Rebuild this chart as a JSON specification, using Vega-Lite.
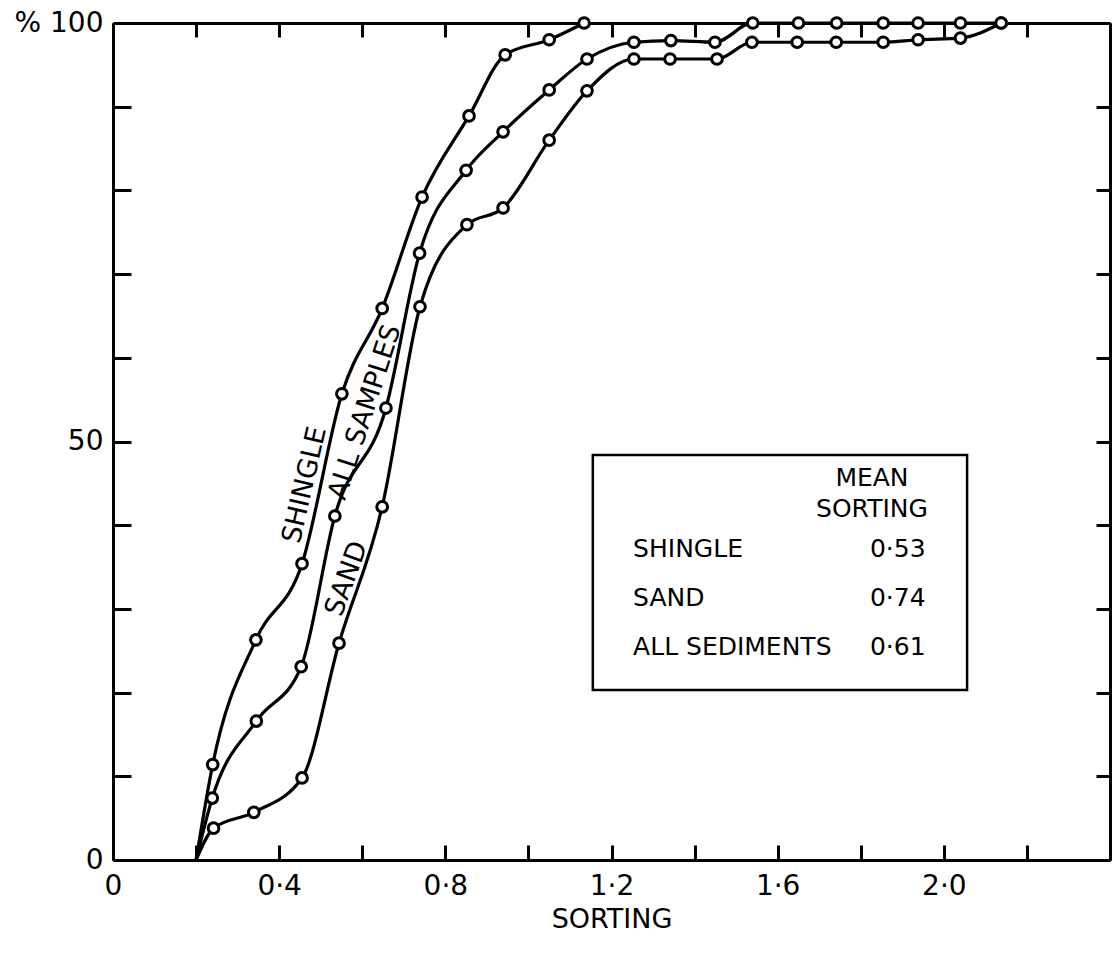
{
  "$schema": "https://vega.github.io/schema/vega-lite/v6.json",
  "width": 997,
  "height": 837,
  "autosize": {"type": "none"},
  "padding": {"left": 113, "top": 23, "right": 6, "bottom": 101},
  "background": "white",
  "config": {
    "view": {"stroke": null},
    "font": "DejaVu Sans",
    "text": {"font": "DejaVu Sans", "color": "black"}
  },
  "datasets": {
    "curves": [
      {"series": "Shingle", "x": 0.2, "y": 0},
      {"series": "Shingle", "x": 0.24, "y": 11.4},
      {"series": "Shingle", "x": 0.344, "y": 26.3},
      {"series": "Shingle", "x": 0.455, "y": 35.4},
      {"series": "Shingle", "x": 0.551, "y": 55.7},
      {"series": "Shingle", "x": 0.648, "y": 65.9},
      {"series": "Shingle", "x": 0.744, "y": 79.2},
      {"series": "Shingle", "x": 0.857, "y": 88.9},
      {"series": "Shingle", "x": 0.944, "y": 96.2},
      {"series": "Shingle", "x": 1.05, "y": 98.0},
      {"series": "Shingle", "x": 1.134, "y": 100},
      {"series": "All samples", "x": 0.2, "y": 0},
      {"series": "All samples", "x": 0.239, "y": 7.4},
      {"series": "All samples", "x": 0.345, "y": 16.6},
      {"series": "All samples", "x": 0.453, "y": 23.1},
      {"series": "All samples", "x": 0.534, "y": 41.1},
      {"series": "All samples", "x": 0.657, "y": 54.0},
      {"series": "All samples", "x": 0.738, "y": 72.5},
      {"series": "All samples", "x": 0.85, "y": 82.4},
      {"series": "All samples", "x": 0.939, "y": 87.0},
      {"series": "All samples", "x": 1.05, "y": 92.0},
      {"series": "All samples", "x": 1.141, "y": 95.7},
      {"series": "All samples", "x": 1.254, "y": 97.7},
      {"series": "All samples", "x": 1.343, "y": 97.9},
      {"series": "All samples", "x": 1.449, "y": 97.7},
      {"series": "All samples", "x": 1.54, "y": 100},
      {"series": "All samples", "x": 1.65, "y": 100},
      {"series": "All samples", "x": 1.742, "y": 100},
      {"series": "All samples", "x": 1.854, "y": 100},
      {"series": "All samples", "x": 1.938, "y": 100},
      {"series": "All samples", "x": 2.04, "y": 100},
      {"series": "All samples", "x": 2.138, "y": 100},
      {"series": "Sand", "x": 0.2, "y": 0},
      {"series": "Sand", "x": 0.242, "y": 3.8},
      {"series": "Sand", "x": 0.339, "y": 5.7},
      {"series": "Sand", "x": 0.455, "y": 9.8},
      {"series": "Sand", "x": 0.544, "y": 25.9},
      {"series": "Sand", "x": 0.648, "y": 42.2},
      {"series": "Sand", "x": 0.739, "y": 66.1},
      {"series": "Sand", "x": 0.852, "y": 75.9},
      {"series": "Sand", "x": 0.939, "y": 77.9},
      {"series": "Sand", "x": 1.05, "y": 86.0},
      {"series": "Sand", "x": 1.141, "y": 91.9},
      {"series": "Sand", "x": 1.254, "y": 95.7},
      {"series": "Sand", "x": 1.341, "y": 95.7},
      {"series": "Sand", "x": 1.454, "y": 95.7},
      {"series": "Sand", "x": 1.538, "y": 97.7},
      {"series": "Sand", "x": 1.647, "y": 97.7},
      {"series": "Sand", "x": 1.741, "y": 97.7},
      {"series": "Sand", "x": 1.854, "y": 97.7},
      {"series": "Sand", "x": 1.938, "y": 98.0},
      {"series": "Sand", "x": 2.04, "y": 98.2},
      {"series": "Sand", "x": 2.138, "y": 100}
    ]
  },
  "layer": [
    {
      "data": {"values": [{}]},
      "mark": {"type": "rect", "fill": "white", "stroke": "black", "strokeWidth": 2.5},
      "encoding": {
        "x": {"datum": 1.155, "type": "quantitative", "axis": null},
        "x2": {"datum": 2.056},
        "y": {"datum": 20.3, "type": "quantitative", "axis": null},
        "y2": {"datum": 48.4}
      }
    },
    {
      "data": {"name": "curves"},
      "mark": {"type": "line", "color": "black", "strokeWidth": 3.2, "interpolate": "monotone"},
      "encoding": {
        "x": {
          "field": "x", "type": "quantitative",
          "scale": {"domain": [0, 2.4], "nice": false, "zero": false},
          "axis": {
            "orient": "bottom",
            "values": [0, 0.2, 0.4, 0.6, 0.8, 1.0, 1.2, 1.4, 1.6, 1.8, 2.0, 2.2, 2.4],
            "labelExpr": "datum.value == 0 ? '0' : (datum.value < 2.3 && round(datum.value * 10) % 4 == 0 ? replace(format(datum.value, '.1f'), '.', '·') : '')",
            "grid": false,
            "tickSize": -15, "tickWidth": 3, "tickColor": "black",
            "domainWidth": 3, "domainColor": "black",
            "labelFont": "DejaVu Sans", "labelFontSize": 28, "labelColor": "black",
            "labelPadding": 27, "labelFlush": false, "labelOverlap": false,
            "title": "SORTING", "titleFont": "DejaVu Sans", "titleFontSize": 27,
            "titleFontWeight": "normal", "titleColor": "black", "titlePadding": 6
          }
        },
        "y": {
          "field": "y", "type": "quantitative",
          "scale": {"domain": [0, 100], "nice": false, "zero": false},
          "axis": {
            "orient": "left",
            "values": [0, 10, 20, 30, 40, 50, 60, 70, 80, 90, 100],
            "labelExpr": "datum.value == 100 ? '% 100' : (datum.value == 50 ? '50' : (datum.value == 0 ? '0' : ''))",
            "grid": false,
            "tickSize": -18, "tickWidth": 3, "tickColor": "black",
            "domainWidth": 3, "domainColor": "black",
            "labelFont": "DejaVu Sans", "labelFontSize": 28, "labelColor": "black",
            "labelPadding": 28, "labelFlush": false, "labelOverlap": false,
            "title": null
          }
        },
        "detail": {"field": "series"}
      }
    },
    {
      "data": {"name": "curves"},
      "transform": [{"filter": "datum.y > 0"}],
      "mark": {"type": "point", "shape": "circle", "filled": true, "fill": "white", "stroke": "black", "strokeWidth": 3, "size": 115, "opacity": 1},
      "encoding": {
        "x": {
          "field": "x", "type": "quantitative",
          "scale": {"domain": [0, 2.4], "nice": false, "zero": false},
          "axis": {
            "orient": "top",
            "values": [0, 0.2, 0.4, 0.6, 0.8, 1.0, 1.2, 1.4, 1.6, 1.8, 2.0, 2.2, 2.4],
            "labels": false, "grid": false,
            "tickSize": -14, "tickWidth": 3, "tickColor": "black",
            "domainWidth": 3, "domainColor": "black", "title": null
          }
        },
        "y": {
          "field": "y", "type": "quantitative",
          "scale": {"domain": [0, 100], "nice": false, "zero": false},
          "axis": {
            "orient": "right",
            "values": [0, 10, 20, 30, 40, 50, 60, 70, 80, 90, 100],
            "labels": false, "grid": false,
            "tickSize": -14, "tickWidth": 3, "tickColor": "black",
            "domainWidth": 3, "domainColor": "black", "title": null
          }
        },
        "detail": {"field": "series"}
      }
    },
    {
      "data": {"values": [{}]},
      "mark": {"type": "text", "text": "SHINGLE", "fontSize": 27, "angle": 283, "align": "center", "baseline": "middle"},
      "encoding": {
        "x": {"datum": 0.462, "type": "quantitative", "axis": null},
        "y": {"datum": 44.8, "type": "quantitative", "axis": null}
      }
    },
    {
      "data": {"values": [{}]},
      "mark": {"type": "text", "text": "ALL SAMPLES", "fontSize": 27, "angle": 288, "align": "center", "baseline": "middle"},
      "encoding": {
        "x": {"datum": 0.607, "type": "quantitative", "axis": null},
        "y": {"datum": 53.5, "type": "quantitative", "axis": null}
      }
    },
    {
      "data": {"values": [{}]},
      "mark": {"type": "text", "text": "SAND", "fontSize": 27, "angle": 290, "align": "center", "baseline": "middle"},
      "encoding": {
        "x": {"datum": 0.563, "type": "quantitative", "axis": null},
        "y": {"datum": 33.6, "type": "quantitative", "axis": null}
      }
    },
    {
      "data": {"values": [{}]},
      "mark": {"type": "text", "text": "MEAN", "fontSize": 25, "align": "center", "baseline": "middle"},
      "encoding": {
        "x": {"datum": 1.827, "type": "quantitative", "axis": null},
        "y": {"datum": 45.6, "type": "quantitative", "axis": null}
      }
    },
    {
      "data": {"values": [{}]},
      "mark": {"type": "text", "text": "SORTING", "fontSize": 25, "align": "center", "baseline": "middle"},
      "encoding": {
        "x": {"datum": 1.827, "type": "quantitative", "axis": null},
        "y": {"datum": 41.9, "type": "quantitative", "axis": null}
      }
    },
    {
      "data": {"values": [{}]},
      "mark": {"type": "text", "text": "SHINGLE", "fontSize": 25, "align": "left", "baseline": "middle"},
      "encoding": {
        "x": {"datum": 1.252, "type": "quantitative", "axis": null},
        "y": {"datum": 37.2, "type": "quantitative", "axis": null}
      }
    },
    {
      "data": {"values": [{}]},
      "mark": {"type": "text", "text": "SAND", "fontSize": 25, "align": "left", "baseline": "middle"},
      "encoding": {
        "x": {"datum": 1.252, "type": "quantitative", "axis": null},
        "y": {"datum": 31.3, "type": "quantitative", "axis": null}
      }
    },
    {
      "data": {"values": [{}]},
      "mark": {"type": "text", "text": "ALL SEDIMENTS", "fontSize": 25, "align": "left", "baseline": "middle"},
      "encoding": {
        "x": {"datum": 1.252, "type": "quantitative", "axis": null},
        "y": {"datum": 25.4, "type": "quantitative", "axis": null}
      }
    },
    {
      "data": {"values": [{}]},
      "mark": {"type": "text", "text": "0·53", "fontSize": 25, "align": "left", "baseline": "middle"},
      "encoding": {
        "x": {"datum": 1.822, "type": "quantitative", "axis": null},
        "y": {"datum": 37.2, "type": "quantitative", "axis": null}
      }
    },
    {
      "data": {"values": [{}]},
      "mark": {"type": "text", "text": "0·74", "fontSize": 25, "align": "left", "baseline": "middle"},
      "encoding": {
        "x": {"datum": 1.822, "type": "quantitative", "axis": null},
        "y": {"datum": 31.3, "type": "quantitative", "axis": null}
      }
    },
    {
      "data": {"values": [{}]},
      "mark": {"type": "text", "text": "0·61", "fontSize": 25, "align": "left", "baseline": "middle"},
      "encoding": {
        "x": {"datum": 1.822, "type": "quantitative", "axis": null},
        "y": {"datum": 25.4, "type": "quantitative", "axis": null}
      }
    }
  ],
  "resolve": {"axis": {"x": "independent", "y": "independent"}}
}
